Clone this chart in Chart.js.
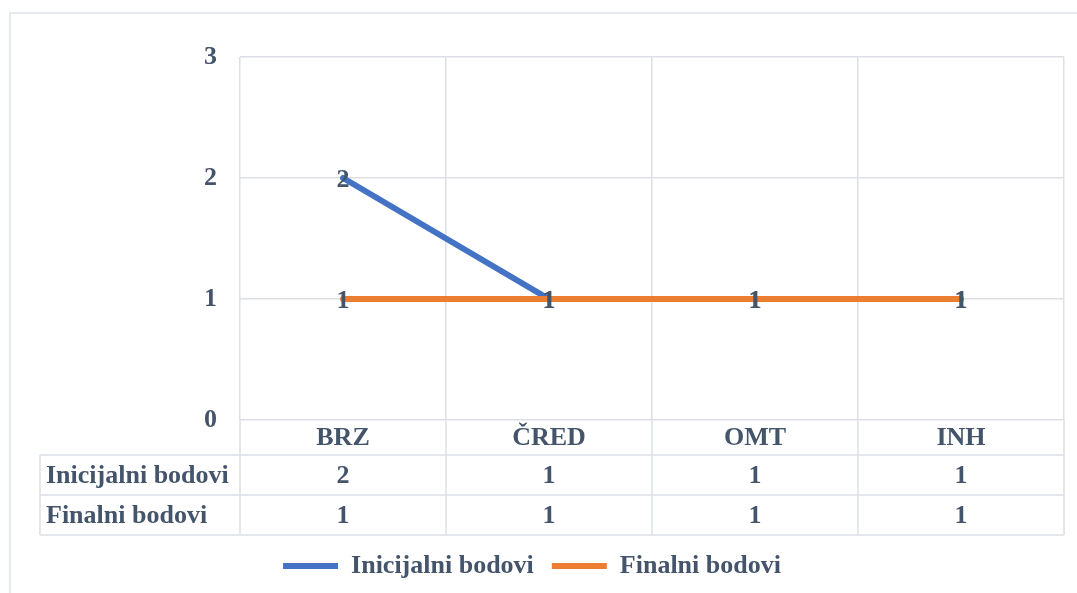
<!DOCTYPE html>
<html>
<head>
<meta charset="utf-8">
<script src="https://cdn.jsdelivr.net/npm/chart.js@4.4.1/dist/chart.umd.min.js"></script>
<style>
  html, body { margin: 0; padding: 0; background: #fff; }
  #wrap { width: 1077px; height: 593px; }
</style>
</head>
<body>
<div id="wrap"><canvas id="grafico" width="1077" height="593"></canvas></div>
<script>
const kategorije = ['BRZ', 'ČRED', 'OMT', 'INH'];
const inicijalni = [2, 1, 1, 1];
const finalni = [1, 1, 1, 1];
const yOznake = [0, 1, 2, 3];

const boja = '#44546A';
const mreza = '#DCE0E6';
const font = { family: "'Liberation Serif', 'Times New Roman', serif", size: 26, weight: 'bold' };
const fontStr = 'bold 26px "Liberation Serif", "Times New Roman", serif';

// okvir oko grafika
const okvir = {
  id: 'okvir',
  beforeDraw(chart) {
    const ctx = chart.ctx;
    ctx.save();
    ctx.strokeStyle = '#DEE2E7';
    ctx.lineWidth = 1.5;
    ctx.beginPath();
    ctx.moveTo(10, 593);
    ctx.lineTo(10, 13);
    ctx.lineTo(1077, 13);
    ctx.stroke();
    ctx.restore();
  }
};

// oznake vrijednosti na tockama
const oznake = {
  id: 'oznake',
  afterDatasetsDraw(chart) {
    const ctx = chart.ctx;
    ctx.save();
    ctx.font = fontStr;
    ctx.fillStyle = boja;
    ctx.textAlign = 'center';
    ctx.textBaseline = 'middle';
    chart.data.datasets.forEach((ds, i) => {
      const meta = chart.getDatasetMeta(i);
      meta.data.forEach((pt, j) => {
        ctx.fillText(String(ds.data[j]), pt.x, pt.y + 2);
      });
    });
    ctx.restore();
  }
};

// tablica podataka ispod grafika
const tablica = {
  id: 'tablica',
  afterDraw(chart) {
    const ctx = chart.ctx;
    const x = chart.scales.x;
    const area = chart.chartArea;
    const pola = (x.getPixelForValue(1) - x.getPixelForValue(0)) / 2;
    const zaglavlje = area.bottom + 35;
    const visinaReda = 40;
    const redovi = [
      { naziv: 'Inicijalni bodovi', vrijednosti: inicijalni },
      { naziv: 'Finalni bodovi', vrijednosti: finalni }
    ];
    const dno = zaglavlje + visinaReda * redovi.length;
    const lijevo = 40;

    ctx.save();
    ctx.strokeStyle = mreza;
    ctx.lineWidth = 1.5;
    ctx.beginPath();
    for (let r = 0; r <= redovi.length; r++) {
      const y = zaglavlje + r * visinaReda;
      ctx.moveTo(lijevo, y);
      ctx.lineTo(area.right, y);
    }
    ctx.moveTo(lijevo, zaglavlje);
    ctx.lineTo(lijevo, dno);
    for (let i = 0; i <= kategorije.length; i++) {
      const px = x.getPixelForValue(0) - pola + i * pola * 2;
      ctx.moveTo(px, area.bottom);
      ctx.lineTo(px, dno);
    }
    ctx.stroke();

    ctx.font = fontStr;
    ctx.fillStyle = boja;
    ctx.textBaseline = 'middle';
    redovi.forEach((red, r) => {
      const y = zaglavlje + r * visinaReda + visinaReda / 2 + 1;
      ctx.textAlign = 'left';
      ctx.fillText(red.naziv, lijevo + 6, y);
      ctx.textAlign = 'center';
      red.vrijednosti.forEach((v, i) => {
        ctx.fillText(String(v), x.getPixelForValue(i), y);
      });
    });
    ctx.restore();
  }
};

new Chart(document.getElementById('grafico'), {
  type: 'line',
  data: {
    labels: kategorije,
    datasets: [
      {
        label: 'Inicijalni bodovi',
        data: inicijalni,
        borderColor: '#4472C4',
        backgroundColor: '#4472C4',
        borderWidth: 6,
        borderCapStyle: 'round',
        pointRadius: 0,
        order: 2
      },
      {
        label: 'Finalni bodovi',
        data: finalni,
        borderColor: '#ED7D31',
        backgroundColor: '#ED7D31',
        borderWidth: 6,
        borderCapStyle: 'round',
        pointRadius: 0,
        order: 1
      }
    ]
  },
  options: {
    responsive: false,
    animation: false,
    layout: { padding: { top: 57, right: 13, left: 0, bottom: 4 } },
    plugins: {
      tooltip: { enabled: false },
      legend: {
        position: 'bottom',
        labels: {
          usePointStyle: true,
          pointStyle: 'line',
          pointStyleWidth: 55,
          color: boja,
          font: font,
          padding: 18,
          sort: (a, b) => a.datasetIndex - b.datasetIndex
        }
      }
    },
    scales: {
      x: {
        offset: true,
        grid: { offset: true, color: mreza, lineWidth: 1.5, drawTicks: false },
        border: { display: false },
        ticks: { color: boja, font: font, padding: 3 },
        afterFit: (s) => { s.height = 115; }
      },
      y: {
        min: 0,
        max: 3,
        afterBuildTicks: (s) => { s.ticks = yOznake.map(v => ({ value: v })); },
        grid: { color: mreza, lineWidth: 1.5, drawTicks: false },
        border: { display: false },
        ticks: { color: boja, font: font, padding: 23 },
        afterFit: (s) => { s.width = 240; }
      }
    }
  },
  plugins: [okvir, oznake, tablica]
});
</script>
</body>
</html>
